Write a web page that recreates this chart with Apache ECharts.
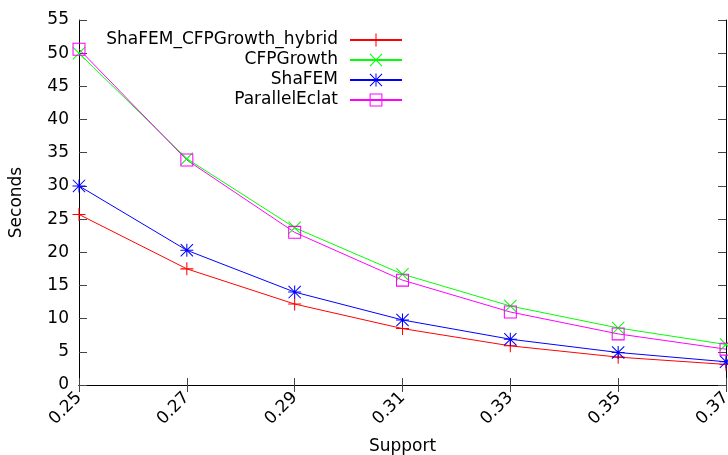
<!DOCTYPE html>
<html>
<head>
<meta charset="utf-8">
<script src="https://cdn.jsdelivr.net/npm/echarts@6/dist/echarts.min.js"></script>
<style>html,body{margin:0;padding:0;background:#fff}#c{width:728px;height:455px}</style>
</head>
<body>
<div id="c"></div>
<script>
const supports = ['0.25', '0.27', '0.29', '0.31', '0.33', '0.35', '0.37'];
const hybrid = [25.7, 17.5, 12.2, 8.5, 5.9, 4.2, 3.1];
const cfpGrowth = [50.0, 34.1, 23.7, 16.7, 11.9, 8.6, 6.1];
const shaFEM = [30.0, 20.3, 14.0, 9.8, 6.9, 4.9, 3.5];
const parallelEclat = [50.6, 33.9, 23.0, 15.8, 11.0, 7.7, 5.4];
const yTicks = {min: 0, max: 55, interval: 5};

const FONT = 'DejaVu Sans';
const plusPath = 'path://M9.2,0H10.8V20H9.2Z M0,9.2H20V10.8H0Z';
const crossPath = 'path://M0,1.1L1.1,0L20,18.9L18.9,20Z M18.9,0L20,1.1L1.1,20L0,18.9Z';
const starPath = 'path://M9.2,0H10.8V20H9.2Z M0,9.2H20V10.8H0Z M0,1.1L1.1,0L20,18.9L18.9,20Z M18.9,0L20,1.1L1.1,20L0,18.9Z';
const boxPath = 'path://M0,0H20V20H0Z M1.6,1.6V18.4H18.4V1.6Z';

function mk(name, data, color, symbol) {
  return {
    name, type: 'line', data, symbol, symbolSize: 13, showSymbol: true,
    lineStyle: {color, width: 1}, itemStyle: {color, borderWidth: 0},
    emphasis: {disabled: true}, animation: false
  };
}

const chart = echarts.init(document.getElementById('c'));
chart.setOption({
  animation: false,
  textStyle: {fontFamily: FONT},
  grid: {left: 79, right: 2, top: 20, bottom: 70, containLabel: false, outerBoundsMode: 'none'},
  legend: {
    orient: 'vertical', align: 'right', right: 325, top: 30, padding: 0,
    itemWidth: 52, itemHeight: 16, itemGap: 0,
    textStyle: {fontFamily: FONT, fontSize: 17, lineHeight: 20, color: '#000', padding: [0, 7, 0, 0]},
    data: ['ShaFEM_CFPGrowth_hybrid', 'CFPGrowth', 'ShaFEM', 'ParallelEclat'],
    selectedMode: false
  },
  xAxis: [{
    type: 'category', data: supports, boundaryGap: false, position: 'bottom',
    name: 'Support', nameLocation: 'middle', nameGap: 53,
    nameTextStyle: {fontFamily: FONT, fontSize: 17, color: '#000'},
    axisLine: {lineStyle: {color: '#000', width: 1}},
    axisTick: {inside: true, length: 7, lineStyle: {color: '#444'}},
    axisLabel: {rotate: 45, margin: 10, fontFamily: FONT, fontSize: 17, color: '#000'},
    splitLine: {show: false}
  }, {
    type: 'category', data: supports, boundaryGap: false, position: 'top',
    axisLine: {lineStyle: {color: '#000', width: 1}},
    axisTick: {inside: true, length: 7, lineStyle: {color: '#444'}},
    axisLabel: {show: false}, splitLine: {show: false}
  }],
  yAxis: [{
    type: 'value', min: yTicks.min, max: yTicks.max, interval: yTicks.interval,
    name: 'Seconds', nameLocation: 'middle', nameGap: 54,
    nameTextStyle: {fontFamily: FONT, fontSize: 17, color: '#000'},
    axisLine: {show: true, lineStyle: {color: '#000', width: 1}},
    axisTick: {show: true, inside: true, length: 8, lineStyle: {color: '#444'}},
    axisLabel: {margin: 10, fontFamily: FONT, fontSize: 17, color: '#000'},
    splitLine: {show: false}
  }, {
    type: 'value', min: yTicks.min, max: yTicks.max, interval: yTicks.interval, position: 'right',
    axisLine: {show: true, lineStyle: {color: '#000', width: 1}},
    axisTick: {show: true, inside: true, length: 8, lineStyle: {color: '#444'}},
    axisLabel: {show: false}, splitLine: {show: false}
  }],
  series: [
    mk('ShaFEM_CFPGrowth_hybrid', hybrid, '#ff0000', plusPath),
    mk('CFPGrowth', cfpGrowth, '#00ff00', crossPath),
    mk('ShaFEM', shaFEM, '#0000ff', starPath),
    mk('ParallelEclat', parallelEclat, '#ff00ff', boxPath)
  ]
});
</script>
</body>
</html>
